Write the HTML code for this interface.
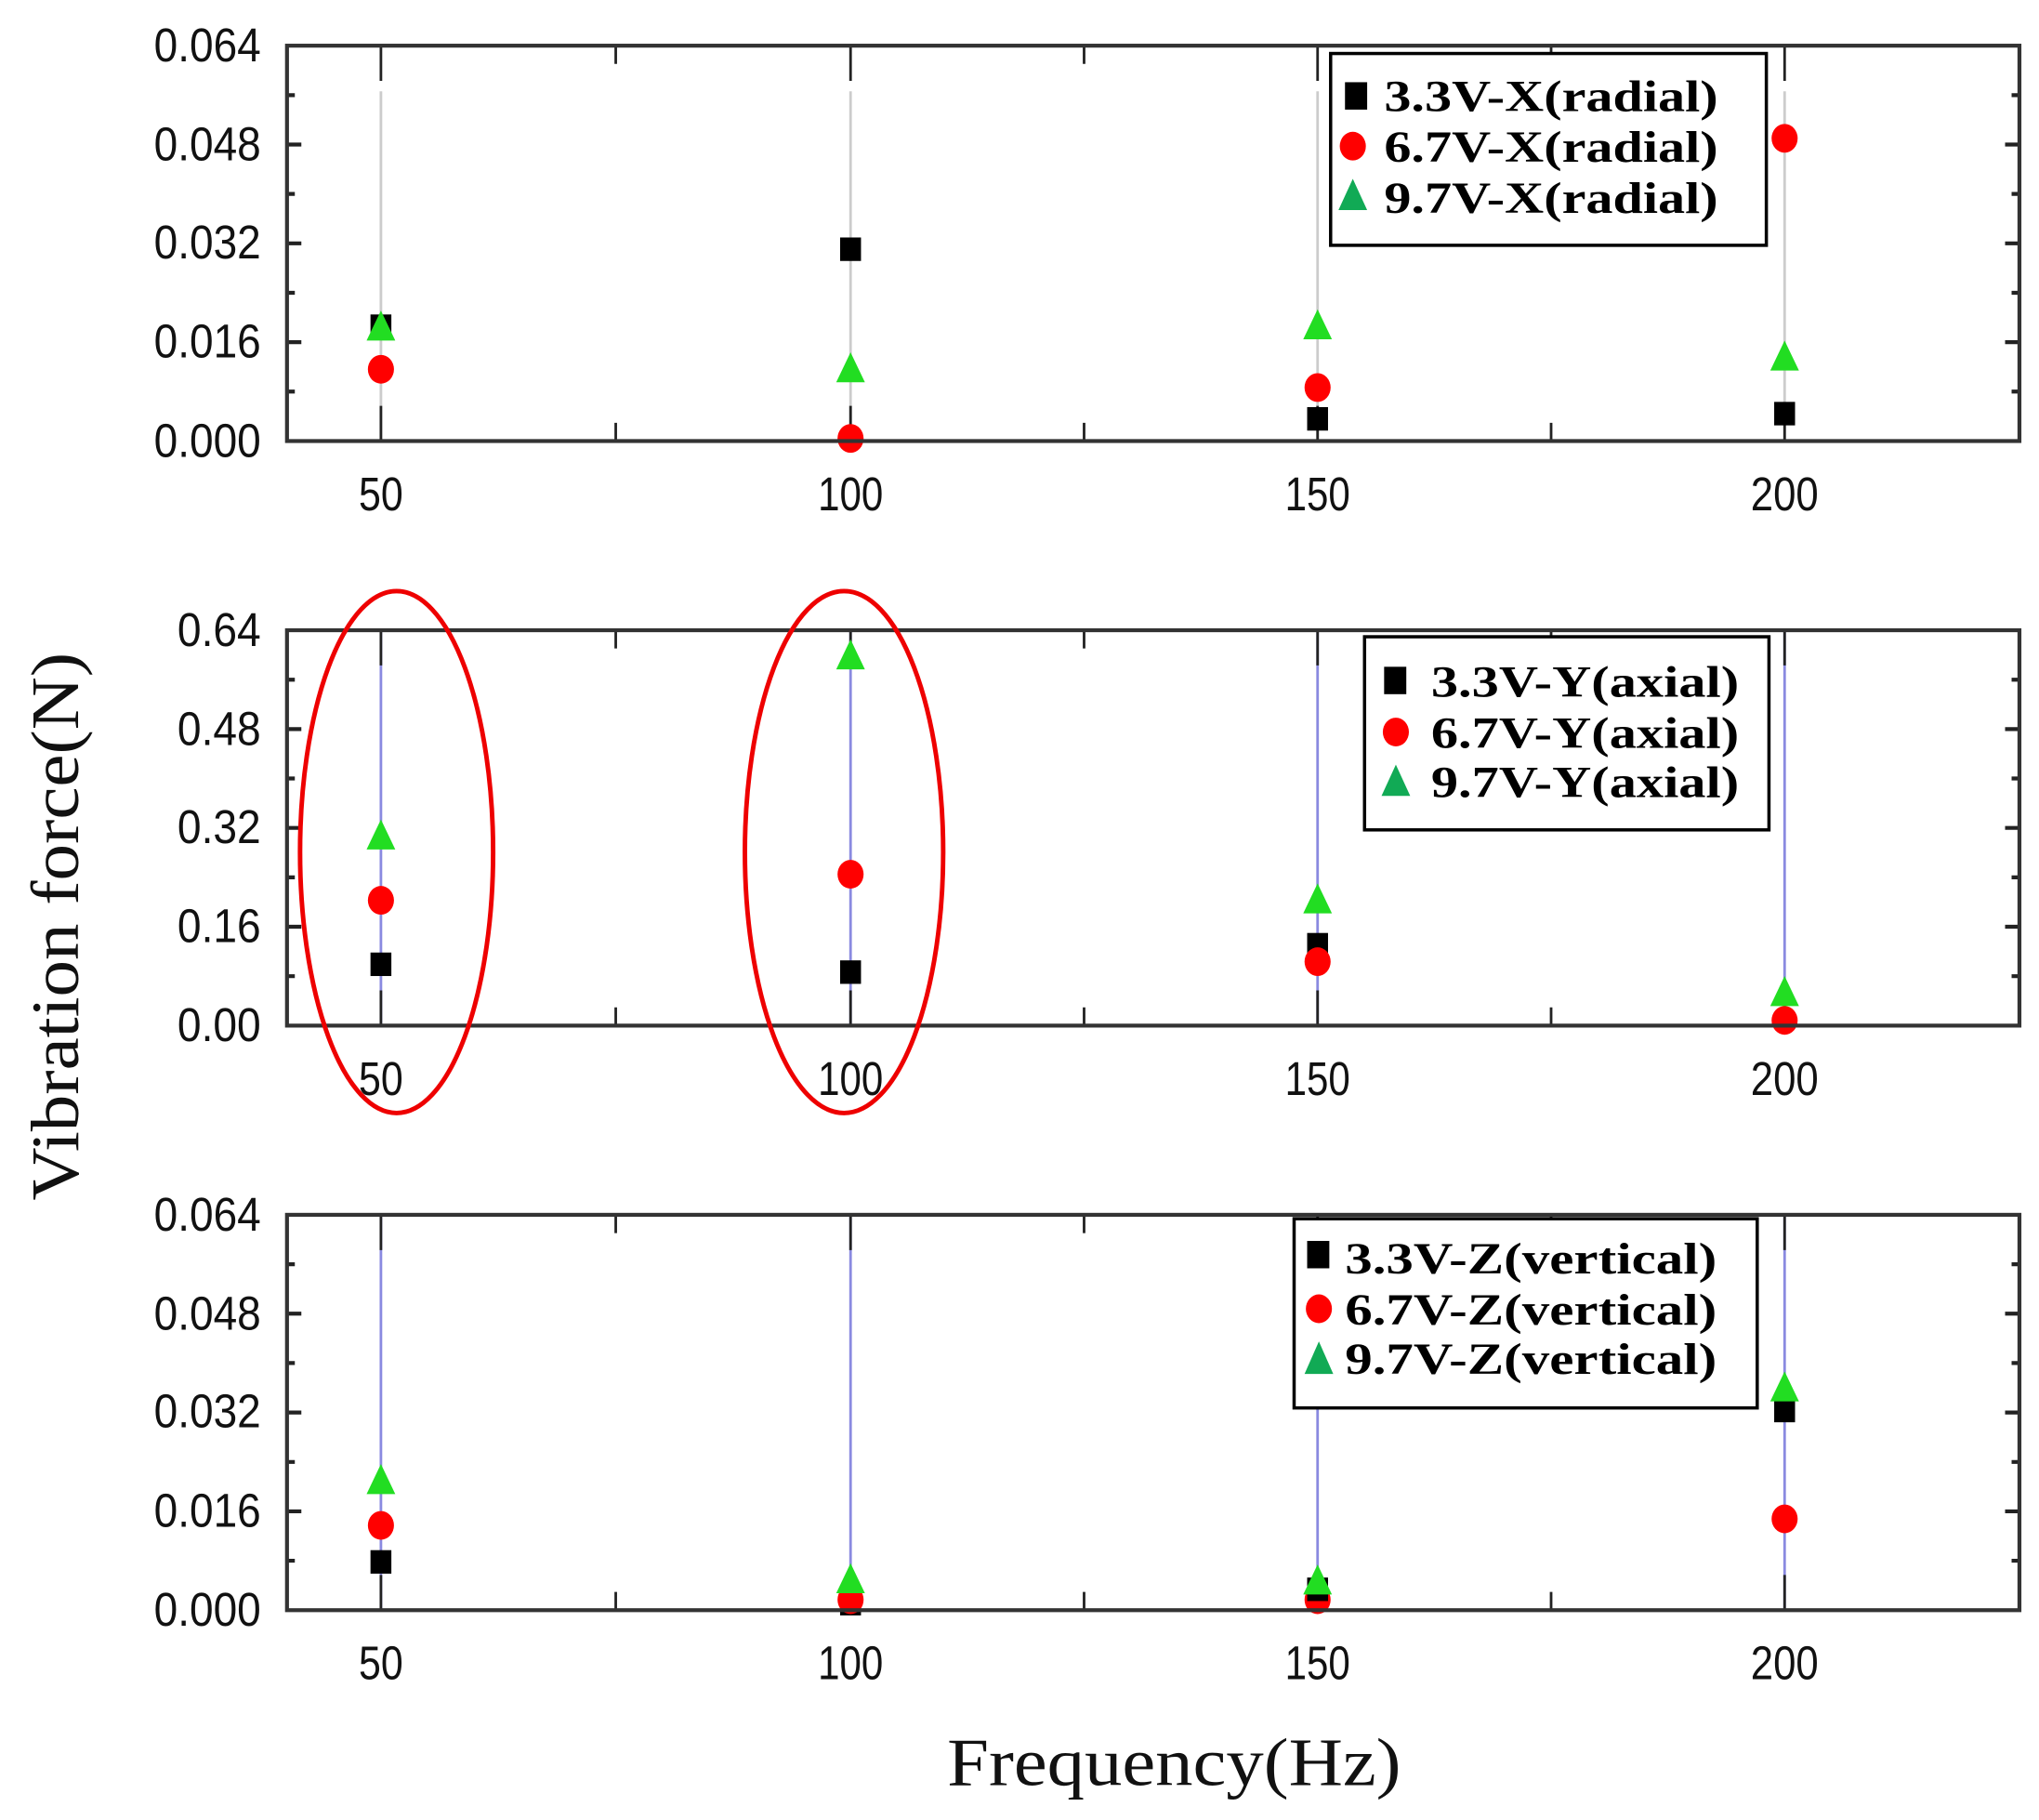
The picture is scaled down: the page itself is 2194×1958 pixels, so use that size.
<!DOCTYPE html>
<html><head><meta charset="utf-8"><style>html,body{margin:0;padding:0;background:#fff}svg{display:block}</style></head>
<body>
<svg width="2194" height="1958" viewBox="0 0 1563 1394.8" preserveAspectRatio="none" xmlns="http://www.w3.org/2000/svg">
<defs>
<g id="ticks">
  <path d="M220 72.9h6M220 110.75h11M220 148.6h6M220 186.5h11M220 224.4h6M220 262.25h11M220 300.1h6M1548 72.9h-6M1548 110.75h-11M1548 148.6h-6M1548 186.5h-11M1548 224.4h-6M1548 262.25h-11M1548 300.1h-6" stroke="#222" stroke-width="3"/>
  <path d="M292 338v-27M472 338v-14M652 338v-27M831 338v-14M1010 338v-27M1189 338v-14M1368 338v-27M292 35v27M472 35v14M652 35v27M831 35v14M1010 35v27M1189 35v14M1368 35v27" stroke="#222" stroke-width="2"/>
  <g font-family="Liberation Sans, sans-serif" font-size="36" fill="#111" text-anchor="middle">
    <text x="292" y="391" textLength="34" lengthAdjust="spacingAndGlyphs">50</text>
    <text x="652" y="391" textLength="50" lengthAdjust="spacingAndGlyphs">100</text>
    <text x="1010" y="391" textLength="50" lengthAdjust="spacingAndGlyphs">150</text>
    <text x="1368" y="391" textLength="52" lengthAdjust="spacingAndGlyphs">200</text>
  </g>
</g>
<g id="sq"><rect x="-8" y="-9" width="16" height="18" fill="#000"/></g>
<g id="ci"><ellipse rx="10" ry="11" fill="#f00"/></g>
<g id="tr"><path d="M0 -13L11 10H-11Z" fill="#2d2"/></g>
</defs>

<!-- ===== Panel 1 ===== -->
<g>
  <path d="M292 70V338M652 70V338M1010 70V338M1368 70V338" stroke="#ccc" stroke-width="2"/>
  <use href="#ticks"/>
  <g font-family="Liberation Sans, sans-serif" font-size="36" fill="#111" text-anchor="end">
    <text x="200" y="47" textLength="82" lengthAdjust="spacingAndGlyphs">0.064</text>
    <text x="200" y="123" textLength="82" lengthAdjust="spacingAndGlyphs">0.048</text>
    <text x="200" y="198" textLength="82" lengthAdjust="spacingAndGlyphs">0.032</text>
    <text x="200" y="274" textLength="82" lengthAdjust="spacingAndGlyphs">0.016</text>
    <text x="200" y="350" textLength="82" lengthAdjust="spacingAndGlyphs">0.000</text>
  </g>
  <use href="#sq" x="292" y="250"/><use href="#tr" x="292" y="251"/><use href="#ci" x="292" y="283"/>
  <use href="#sq" x="652" y="191"/><use href="#tr" x="652" y="283"/><use href="#ci" x="652" y="336"/>
  <use href="#tr" x="1010" y="250"/><use href="#ci" x="1010" y="297"/><use href="#sq" x="1010" y="321"/>
  <use href="#ci" x="1368" y="106"/><use href="#tr" x="1368" y="274"/><use href="#sq" x="1368" y="317"/>
  <rect x="220" y="35" width="1328" height="303" fill="none" stroke="#333" stroke-width="3"/>
  <rect x="1020" y="41" width="334" height="147" fill="#fff" stroke="#000" stroke-width="2.5"/>
  <g font-family="Liberation Serif, serif" font-weight="bold" font-size="34" fill="#000">
    <rect x="1031" y="63" width="17" height="21"/><text x="1061" y="85" textLength="256" lengthAdjust="spacingAndGlyphs">3.3V-X(radial)</text>
    <ellipse cx="1037" cy="112" rx="10" ry="11" fill="#f00"/><text x="1061" y="124" textLength="256" lengthAdjust="spacingAndGlyphs">6.7V-X(radial)</text>
    <path d="M1037 137L1048 161H1026Z" fill="#1a5"/><text x="1061" y="163" textLength="256" lengthAdjust="spacingAndGlyphs">9.7V-X(radial)</text>
  </g>
</g>

<!-- ===== Panel 2 ===== -->
<g transform="translate(0,448)">
  <path d="M292 35V338M652 35V338M1010 35V338M1368 35V338" stroke="#8a8ae0" stroke-width="2"/>
  <use href="#ticks"/>
  <g font-family="Liberation Sans, sans-serif" font-size="36" fill="#111" text-anchor="end">
    <text x="200" y="47" textLength="64" lengthAdjust="spacingAndGlyphs">0.64</text>
    <text x="200" y="123" textLength="64" lengthAdjust="spacingAndGlyphs">0.48</text>
    <text x="200" y="198" textLength="64" lengthAdjust="spacingAndGlyphs">0.32</text>
    <text x="200" y="274" textLength="64" lengthAdjust="spacingAndGlyphs">0.16</text>
    <text x="200" y="350" textLength="64" lengthAdjust="spacingAndGlyphs">0.00</text>
  </g>
  <use href="#tr" x="292" y="193"/><use href="#ci" x="292" y="242"/><use href="#sq" x="292" y="291"/>
  <use href="#tr" x="652" y="55"/><use href="#ci" x="652" y="222"/><use href="#sq" x="652" y="297"/>
  <use href="#tr" x="1010" y="242"/><use href="#sq" x="1010" y="276"/><use href="#ci" x="1010" y="289"/>
  <use href="#ci" x="1368" y="334"/><use href="#tr" x="1368" y="313"/>
  <rect x="220" y="35" width="1328" height="303" fill="none" stroke="#333" stroke-width="3"/>
  <rect x="1046" y="40" width="310" height="148" fill="#fff" stroke="#000" stroke-width="2.5"/>
  <g font-family="Liberation Serif, serif" font-weight="bold" font-size="34" fill="#000">
    <rect x="1061" y="63" width="17" height="21"/><text x="1097" y="86" textLength="236" lengthAdjust="spacingAndGlyphs">3.3V-Y(axial)</text>
    <ellipse cx="1070" cy="113" rx="10" ry="11" fill="#f00"/><text x="1097" y="125" textLength="236" lengthAdjust="spacingAndGlyphs">6.7V-Y(axial)</text>
    <path d="M1070 138L1081 162H1059Z" fill="#1a5"/><text x="1097" y="163" textLength="236" lengthAdjust="spacingAndGlyphs">9.7V-Y(axial)</text>
  </g>
  <ellipse cx="304" cy="205" rx="74" ry="200" fill="none" stroke="#e00" stroke-width="3.5"/>
  <ellipse cx="647" cy="205" rx="76" ry="200" fill="none" stroke="#e00" stroke-width="3.5"/>
</g>

<!-- ===== Panel 3 ===== -->
<g transform="translate(0,896)">
  <path d="M292 35V338M652 35V338M1010 35V338M1368 35V338" stroke="#8a8ae0" stroke-width="2"/>
  <use href="#ticks"/>
  <g font-family="Liberation Sans, sans-serif" font-size="36" fill="#111" text-anchor="end">
    <text x="200" y="47" textLength="82" lengthAdjust="spacingAndGlyphs">0.064</text>
    <text x="200" y="123" textLength="82" lengthAdjust="spacingAndGlyphs">0.048</text>
    <text x="200" y="198" textLength="82" lengthAdjust="spacingAndGlyphs">0.032</text>
    <text x="200" y="274" textLength="82" lengthAdjust="spacingAndGlyphs">0.016</text>
    <text x="200" y="350" textLength="82" lengthAdjust="spacingAndGlyphs">0.000</text>
  </g>
  <use href="#tr" x="292" y="239"/><use href="#ci" x="292" y="273"/><use href="#sq" x="292" y="301"/>
  <use href="#sq" x="652" y="333"/><use href="#ci" x="652" y="330"/><use href="#tr" x="652" y="315"/>
  <use href="#ci" x="1010" y="330"/><use href="#sq" x="1010" y="322"/><use href="#tr" x="1010" y="316"/>
  <use href="#sq" x="1368" y="185"/><use href="#tr" x="1368" y="168"/><use href="#ci" x="1368" y="268"/>
  <rect x="220" y="35" width="1328" height="303" fill="none" stroke="#333" stroke-width="3"/>
  <rect x="992" y="38" width="355" height="145" fill="#fff" stroke="#000" stroke-width="2.5"/>
  <g font-family="Liberation Serif, serif" font-weight="bold" font-size="34" fill="#000">
    <rect x="1002" y="55" width="17" height="21"/><text x="1031" y="80" textLength="285" lengthAdjust="spacingAndGlyphs">3.3V-Z(vertical)</text>
    <ellipse cx="1011" cy="107" rx="10" ry="11" fill="#f00"/><text x="1031" y="119" textLength="285" lengthAdjust="spacingAndGlyphs">6.7V-Z(vertical)</text>
    <path d="M1011 132L1022 157H1000Z" fill="#1a5"/><text x="1031" y="157" textLength="285" lengthAdjust="spacingAndGlyphs">9.7V-Z(vertical)</text>
  </g>
</g>

<text x="900" y="1368" text-anchor="middle" font-family="Liberation Serif, serif" font-size="52" fill="#111" textLength="348" lengthAdjust="spacingAndGlyphs">Frequency(Hz)</text>
<text transform="translate(60,710) rotate(-90)" text-anchor="middle" font-family="Liberation Serif, serif" font-size="52" fill="#111" textLength="420" lengthAdjust="spacingAndGlyphs">Vibration force(N)</text>
</svg>
</body></html>
